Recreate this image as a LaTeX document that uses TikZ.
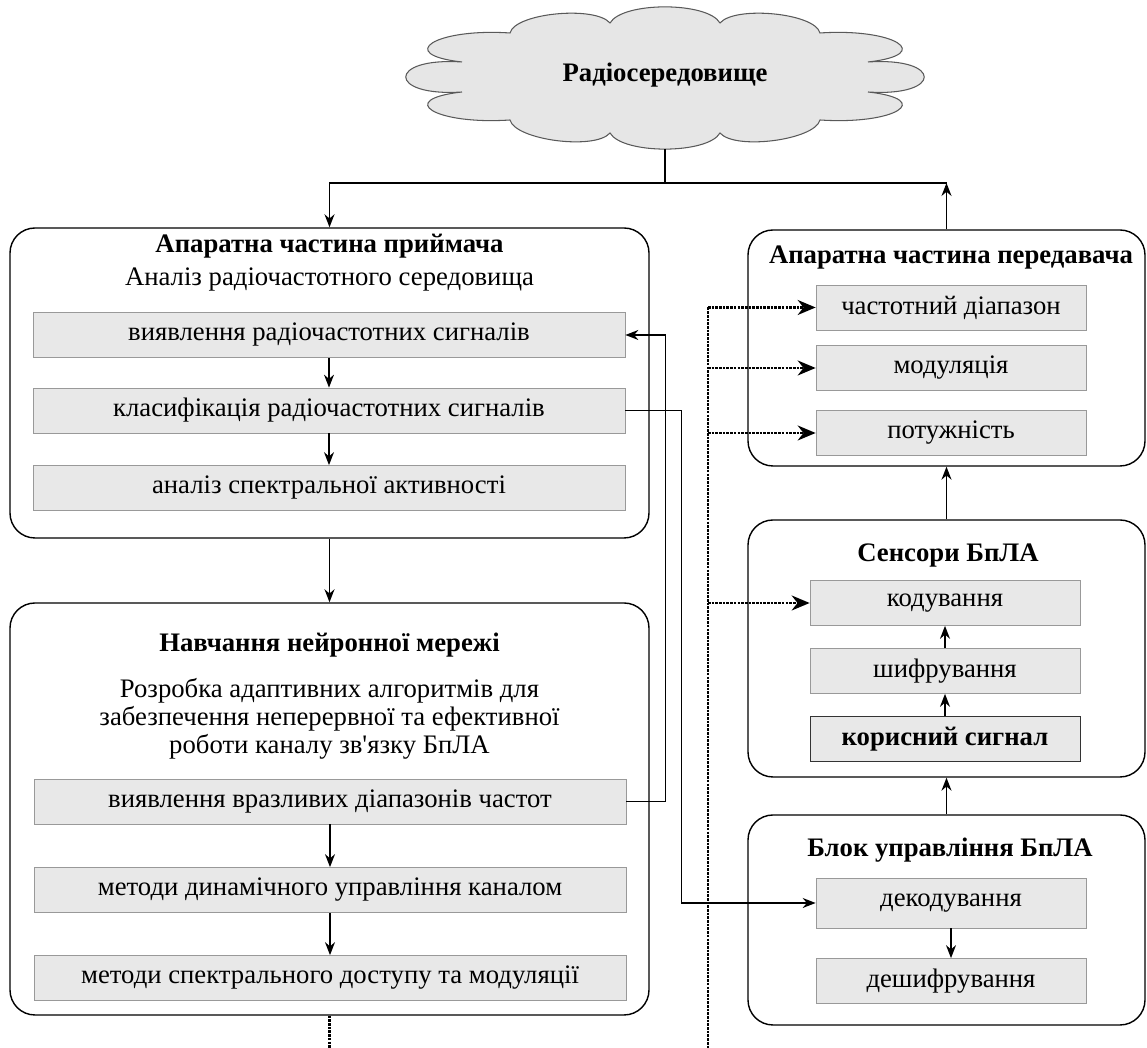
\documentclass[tikz,border=0pt]{standalone}
\usepackage{fontspec}
\setmainfont{Liberation Serif}
\usetikzlibrary{arrows.meta}
\definecolor{boxgray}{HTML}{E8E8E8}
\definecolor{cloudgray}{HTML}{E6E6E6}
\newcommand{\straightquote}{{\XeTeXglyph\XeTeXcharglyph"0027}}
\tikzset{
  bigbox/.style={draw, line width=0.8pt, rounded corners=0.5cm},
  subbox/.style={draw=gray!80, fill=boxgray, minimum width=11.84cm, minimum height=0.9cm, inner sep=0pt},
  rsub/.style={subbox, minimum width=5.4cm},
  titletext/.style={font=\fontsize{15.2}{17}\selectfont\bfseries},
  arr/.style={line width=0.8pt, -{Stealth[length=2.6mm, width=2mm]}},
  bus/.style={line width=1.2pt, dash pattern=on 1.5pt off 0.6pt},
  busarr/.style={bus, -{Stealth[length=3.6mm, width=3mm]}}
}
\begin{document}
\begin{tikzpicture}[font=\fontsize{15.2}{17}\selectfont]
\useasboundingbox (0,0) rectangle (22.94,20.96);

% cloud
\draw[draw=gray!70!black, line width=0.6pt, fill=cloudgray]
  (12.20,20.50) .. controls +(0.25,0.43) and +(-0.25,0.43) .. (14.40,20.50)
  .. controls +(0.3,0.35) and +(-0.1,0.4) .. (16.40,20.30)
  .. controls +(1.5,0.1) and +(1.35,0.15) .. (17.36,19.72)
  .. controls +(1.5,0.1) and +(1.5,-0.1) .. (17.36,19.12)
  .. controls +(1.35,-0.15) and +(1.5,-0.1) .. (16.40,18.56)
  .. controls +(-0.1,-0.4) and +(0.3,-0.35) .. (14.40,18.30)
  .. controls +(-0.25,-0.43) and +(0.25,-0.43) .. (12.20,18.30)
  .. controls +(-0.3,-0.35) and +(0.1,-0.4) .. (10.20,18.56)
  .. controls +(-1.5,-0.1) and +(-1.35,-0.15) .. (9.24,19.12)
  .. controls +(-1.5,-0.1) and +(-1.5,0.1) .. (9.24,19.72)
  .. controls +(-1.35,0.15) and +(-1.5,0.1) .. (10.20,20.30)
  .. controls +(0.1,0.4) and +(-0.3,0.35) .. (12.20,20.50) -- cycle;
\node (radio) at (13.30,19.46) {\textbf{Радіосередовище}};
\coordinate (radioBottom) at (13.30,17.98);

% receiver
\node[bigbox, minimum width=12.78cm, minimum height=6.2cm] (recv) at (6.59,13.30) {};
\node[titletext] (recvTitle) at (6.59,16.04) {Апаратна частина приймача};
\node (recvText) at (6.59,15.36) {Аналіз радіочастотного середовища};
\node[subbox] (s1) at (6.58,14.26) {виявлення радіочастотних сигналів};
\node[subbox] (s2) at (6.58,12.75) {класифікація радіочастотних сигналів};
\node[subbox] (s3) at (6.58,11.20) {аналіз спектральної активності};

% training
\node[bigbox, minimum width=12.78cm, minimum height=8.24cm] (train) at (6.59,4.78) {};
\node[titletext] (trainTitle) at (6.59,8.06) {Навчання нейронної мережі};
\node[align=center, font=\fontsize{15.2}{16}\selectfont] (trainText) at (6.59,6.58) {Розробка адаптивних алгоритмів для\\забезпечення неперервної та ефективної\\роботи каналу зв\straightquote язку БпЛА};
\node[subbox] (s4) at (6.60,4.93) {виявлення вразливих діапазонів частот};
\node[subbox] (s5) at (6.60,3.16) {методи динамічного управління каналом};
\node[subbox] (s6) at (6.60,1.40) {методи спектрального доступу та модуляції};

% transmitter
\node[bigbox, minimum width=7.94cm, minimum height=4.72cm] (tx) at (18.93,14.00) {};
\node[titletext] (txTitle) at (19.02,15.80) {Апаратна частина передавача};
\node[rsub] (chd) at (19.02,14.81) {частотний діапазон};
\node[rsub] (mod) at (19.02,13.60) {модуляція};
\node[rsub] (pot) at (19.02,12.30) {потужність};

% sensors
\node[bigbox, minimum width=7.94cm, minimum height=5.14cm] (sens) at (18.93,7.99) {};
\node[titletext] (sensTitle) at (18.96,9.84) {Сенсори БпЛА};
\node[rsub] (kod) at (18.90,8.90) {кодування};
\node[rsub] (shyf) at (18.90,7.54) {шифрування};
\node[rsub, draw=black!80, titletext] (kor) at (18.90,6.18) {корисний сигнал};

% control
\node[bigbox, minimum width=7.94cm, minimum height=4.2cm] (ctrl) at (18.93,2.56) {};
\node[titletext] (ctrlTitle) at (19.00,3.96) {Блок управління БпЛА};
\node[rsub, minimum height=1cm] (dek) at (19.02,2.90) {декодування};
\node[rsub] (deshyf) at (19.02,1.34) {дешифрування};

% connectors
\coordinate (split) at (13.30,17.30);
\draw[line width=0.8pt] (radioBottom) -- (split);
\draw[arr] (split) -| (recv.north);
\draw[line width=0.8pt] (split) -- (tx.north |- split);
\draw[arr] (tx.north) -- (tx.north |- split);

\draw[arr] (s1) -- (s2);
\draw[arr] (s2) -- (s3);
\draw[arr] (recv.south) -- (train.north);
\draw[arr] (s4) -- (s5);
\draw[arr] (s5) -- (s6);

\draw[arr] (ctrl.north) -- (sens.south);
\draw[arr] (sens.north) -- (tx.south);
\draw[arr] (kor) -- (shyf);
\draw[arr] (shyf) -- (kod);
\draw[arr] (dek) -- (deshyf);

\draw[arr] (s4.east) -- ++(0.78,0) |- (s1.east);
\draw[arr] (s2.east) -- ++(1.12,0) |- (dek.west);

\coordinate (busTop) at (14.16,14.81);
\coordinate (busEnd) at (14.16,0);
\draw[bus] (busTop) -- (busEnd);
\draw[busarr] (busTop) -- (chd.west);
\draw[busarr] (mod.west -| busTop) -- (mod.west);
\draw[busarr] (pot.west -| busTop) -- (pot.west);
\draw[busarr] (kod.west -| busTop) -- (kod.west);
\draw[bus] (train.south) -- (train.south |- busEnd);
\end{tikzpicture}
\end{document}
